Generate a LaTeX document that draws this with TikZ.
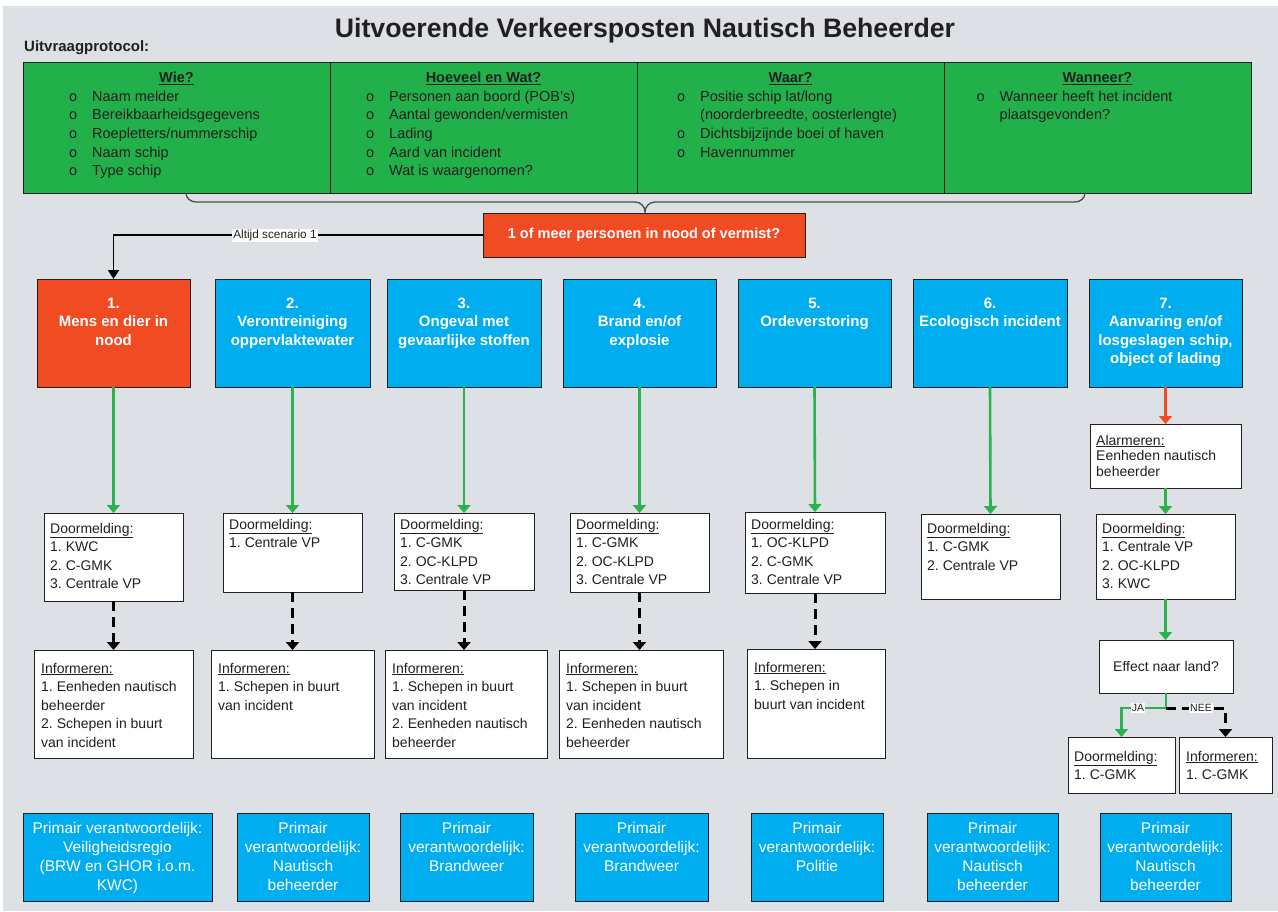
\documentclass[tikz,border=0pt]{standalone}
\usepackage{fontspec}
\setmainfont{Liberation Sans}
\usetikzlibrary{arrows.meta,calc}
\frenchspacing

\definecolor{ink}{HTML}{231F20}
\definecolor{bggrey}{HTML}{DDE1E5}
\definecolor{protgreen}{HTML}{22B04B}
\definecolor{flowgreen}{HTML}{2BB24C}
\definecolor{alertred}{HTML}{F04B23}
\definecolor{catblue}{HTML}{00ADEF}

% box from corner coordinates: name, style, x1, y1, x2, y2
\newcommand\boxnode[6]{%
  \node[#2, minimum width={#5-#3}, minimum height={#6-#4}] (#1)
    at ({(#3+#5)/2},{(#4+#6)/2}) {};}
\newcommand\itm[1]{\makebox[23pt][l]{o}#1}

\begin{document}
\frenchspacing
\begin{tikzpicture}[x=1pt,y=-1pt,
  frame/.style={draw=ink, line width=1pt, inner sep=0pt, outer sep=0pt},
  greencell/.style={frame, fill=protgreen},
  catbox/.style={frame, fill=catblue},
  redbox/.style={frame, fill=alertred},
  whitebox/.style={frame, fill=white},
  hdr/.style={anchor=base, inner sep=0pt, text=ink, font=\fontsize{14.5}{18}\selectfont\bfseries},
  listtxt/.style={anchor=north west, inner sep=0pt, align=left, text=ink, font=\fontsize{14.5}{18.7}\selectfont},
  bodytxt/.style={anchor=north west, inner sep=0pt, align=left, text=ink, font=\fontsize{14}{18.5}\selectfont},
  alarmtxt/.style={anchor=north west, inner sep=0pt, align=left, text=ink, font=\fontsize{14}{15.5}\selectfont},
  cattxt/.style={anchor=north, inner sep=0pt, align=center, text=white, font=\fontsize{15}{18.5}\selectfont\bfseries},
  bottxt/.style={anchor=north, inner sep=0pt, align=center, text=white, font=\fontsize{15.5}{19}\selectfont},
  tag/.style={fill=white, inner sep=1pt, text=ink, font=\fontsize{11.8}{13}\selectfont},
  garrow/.style={draw=flowgreen, line width=2.6pt, -{Triangle[width=13pt,length=8pt]}},
  rarrow/.style={draw=alertred, line width=2.6pt, -{Triangle[width=13pt,length=8pt]}},
  darrow/.style={draw=black, line width=3pt, dash pattern=on 10pt off 6pt, -{Triangle[width=13pt,length=8pt]}},
  karrow/.style={draw=black, line width=1.8pt, -{Triangle[width=11pt,length=9pt]}},
  brace/.style={draw=black!70, line width=1.3pt}
]
\useasboundingbox (0,0) rectangle (1278,911);
\fill[white] (0,0) rectangle (1278,911);
\fill[bggrey] (3,6) rectangle (1278,911);

% title and caption
\node[anchor=base, inner sep=0pt, text=ink, font=\fontsize{26.7}{30}\selectfont\bfseries] (title) at (645,37)
  {Uitvoerende Verkeersposten Nautisch Beheerder};
\node[anchor=base west, inner sep=0pt, text=ink, font=\fontsize{15}{18}\selectfont\bfseries] (protocol) at (24,51)
  {Uitvraagprotocol:};

% question protocol table
\boxnode{wie}{greencell}{23}{62}{330}{193}
\boxnode{wat}{greencell}{330}{62}{637}{193}
\boxnode{waar}{greencell}{637}{62}{944}{193}
\boxnode{wanneer}{greencell}{944}{62}{1251}{193}

\node[hdr] (wieh) at ($(wie.north)+(0,20.5)$) {\underline{Wie?}};
\node[hdr] (wath) at ($(wat.north)+(0,20.5)$) {\underline{Hoeveel en Wat?}};
\node[hdr] (waarh) at ($(waar.north)+(0,20.5)$) {\underline{Waar?}};
\node[hdr] (wanneerh) at ($(wanneer.north)+(0,20.5)$) {\underline{Wanneer?}};

\node[listtxt] (wiel) at ($(wie.north west)+(46,25.9)$)
  {\strut\itm{Naam melder}\\ \itm{Bereikbaarheidsgegevens}\\ \itm{Roepletters/nummerschip}\\ \itm{Naam schip}\\ \itm{Type schip}};
\node[listtxt] (watl) at ($(wat.north west)+(36,25.9)$)
  {\strut\itm{Personen aan boord (POB's)}\\ \itm{Aantal gewonden/vermisten}\\ \itm{Lading}\\ \itm{Aard van incident}\\ \itm{Wat is waargenomen?}};
\node[listtxt] (waarl) at ($(waar.north west)+(40,25.9)$)
  {\strut\itm{Positie schip lat/long}\\ \hspace*{23pt}(noorderbreedte, oosterlengte)\\ \itm{Dichtsbijzijnde boei of haven}\\ \itm{Havennummer}};
\node[listtxt] (wanneerl) at ($(wanneer.north west)+(32.5,25.9)$)
  {\strut\itm{Wanneer heeft het incident}\\ \hspace*{23pt}plaatsgevonden?};

% brace gathering the protocol columns
\draw[brace] (186,193) to[out=-90,in=180] (196,202) -- (635,202)
  to[out=0,in=90] (645,212) to[out=90,in=180] (655,202) -- (1075,202)
  to[out=0,in=-90] (1085,193);

% central question
\boxnode{q}{redbox}{483}{213}{805}{257}
\node[inner sep=0pt, text=white, font=\fontsize{14.5}{18}\selectfont\bfseries] (qt) at (q.center) {1 of meer personen in nood of vermist?};

% incident categories
\boxnode{c1}{redbox}{37}{279}{190}{387}
\boxnode{c2}{catbox}{215}{279}{370}{387}
\boxnode{c3}{catbox}{387}{279}{541}{387}
\boxnode{c4}{catbox}{563}{279}{716}{387}
\boxnode{c5}{catbox}{738}{279}{891}{387}
\boxnode{c6}{catbox}{913}{279}{1067}{387}
\boxnode{c7}{catbox}{1089}{279}{1242}{387}

\node[cattxt] (c1t) at ($(c1.north)+(0,16)$) {\strut 1.\\ Mens en dier in\\ nood};
\node[cattxt] (c2t) at ($(c2.north)+(0,16)$) {\strut 2.\\ Verontreiniging\\ oppervlaktewater};
\node[cattxt] (c3t) at ($(c3.north)+(0,16)$) {\strut 3.\\ Ongeval met\\ gevaarlijke stoffen};
\node[cattxt] (c4t) at ($(c4.north)+(0,16)$) {\strut 4.\\ Brand en/of\\ explosie};
\node[cattxt] (c5t) at ($(c5.north)+(0,16)$) {\strut 5.\\ Ordeverstoring};
\node[cattxt] (c6t) at ($(c6.north)+(0,16)$) {\strut 6.\\ Ecologisch incident};
\node[cattxt] (c7t) at ($(c7.north)+(0,16)$) {\strut 7.\\ Aanvaring en/of\\ losgeslagen schip,\\ object of lading};

% always scenario 1
\draw[karrow] (q.west) -| (c1.north);
\node[tag] (altijd) at (275,235) {Altijd scenario 1};

% forwarding boxes
\boxnode{d1}{whitebox}{44}{513}{183}{601}
\boxnode{d2}{whitebox}{223}{513}{362}{592}
\boxnode{d3}{whitebox}{394}{513}{534}{590}
\boxnode{d4}{whitebox}{570}{513}{709}{592}
\boxnode{d5}{whitebox}{745}{512}{885}{593}
\boxnode{d6}{whitebox}{921}{514}{1060}{599}
\boxnode{d7}{whitebox}{1096}{514}{1235}{599}
\boxnode{a7}{whitebox}{1090}{424}{1241}{488}

\node[bodytxt] (d1t) at ($(d1.north west)+(6,7)$) {\strut\underline{Doormelding:}\\ 1. KWC\\ 2. C-GMK\\ 3. Centrale VP};
\node[bodytxt] (d2t) at ($(d2.north west)+(6,3)$) {\strut\underline{Doormelding:}\\ 1. Centrale VP};
\node[bodytxt] (d3t) at ($(d3.north west)+(6,3)$) {\strut\underline{Doormelding:}\\ 1. C-GMK\\ 2. OC-KLPD\\ 3. Centrale VP};
\node[bodytxt] (d4t) at ($(d4.north west)+(6,3)$) {\strut\underline{Doormelding:}\\ 1. C-GMK\\ 2. OC-KLPD\\ 3. Centrale VP};
\node[bodytxt] (d5t) at ($(d5.north west)+(6,4)$) {\strut\underline{Doormelding:}\\ 1. OC-KLPD\\ 2. C-GMK\\ 3. Centrale VP};
\node[bodytxt] (d6t) at ($(d6.north west)+(6,6)$) {\strut\underline{Doormelding:}\\ 1. C-GMK\\ 2. Centrale VP};
\node[bodytxt] (d7t) at ($(d7.north west)+(6,6)$) {\strut\underline{Doormelding:}\\ 1. Centrale VP\\ 2. OC-KLPD\\ 3. KWC};
\node[alarmtxt] (a7t) at ($(a7.north west)+(6,10)$) {\strut\underline{Alarmeren:}\\ Eenheden nautisch\\ beheerder};

% informing boxes
\boxnode{i1}{whitebox}{34}{650}{193}{758}
\boxnode{i2}{whitebox}{211}{650}{374}{758}
\boxnode{i3}{whitebox}{385}{650}{547}{758}
\boxnode{i4}{whitebox}{559}{650}{723}{758}
\boxnode{i5}{whitebox}{747}{649}{885}{758}

\node[bodytxt] (i1t) at ($(i1.north west)+(7,10)$) {\strut\underline{Informeren:}\\ 1. Eenheden nautisch\\ beheerder\\ 2. Schepen in buurt\\ van incident};
\node[bodytxt] (i2t) at ($(i2.north west)+(7,10)$) {\strut\underline{Informeren:}\\ 1. Schepen in buurt\\ van incident};
\node[bodytxt] (i3t) at ($(i3.north west)+(7,10)$) {\strut\underline{Informeren:}\\ 1. Schepen in buurt\\ van incident\\ 2. Eenheden nautisch\\ beheerder};
\node[bodytxt] (i4t) at ($(i4.north west)+(7,10)$) {\strut\underline{Informeren:}\\ 1. Schepen in buurt\\ van incident\\ 2. Eenheden nautisch\\ beheerder};
\node[bodytxt] (i5t) at ($(i5.north west)+(7,10)$) {\strut\underline{Informeren:}\\ 1. Schepen in\\ buurt van incident};

% scenario 7 decision
\boxnode{e7}{whitebox}{1099}{640}{1233}{693}
\node[inner sep=0pt, text=ink, font=\fontsize{14}{18}\selectfont] (e7t) at (e7.center) {Effect naar land?};
\boxnode{dj}{whitebox}{1068}{737}{1175}{793}
\boxnode{ij}{whitebox}{1179}{737}{1272}{793}
\node[bodytxt] (djt) at ($(dj.north west)+(6,11)$) {\strut\underline{Doormelding:}\\ 1. C-GMK};
\node[bodytxt] (ijt) at ($(ij.north west)+(7,11)$) {\strut\underline{Informeren:}\\ 1. C-GMK};
\coordinate (split) at (1166,708);

% flow connectors
\foreach \k in {1,...,6} {\draw[garrow] (c\k.south) -- (d\k.north);}
\draw[rarrow] (c7.south) -- (a7.north);
\draw[garrow] (a7.south) -- (a7.south |- d7.north);
\draw[garrow] (d7.south) -- (d7.south |- e7.north);
\foreach \k in {1,...,5} {\draw[darrow] (d\k.south) -- (d\k.south |- i\k.north);}
\draw[garrow] (e7.south) -- (split) -| (dj.north);
\draw[darrow] (split) -| (ij.north);
\node[tag, font=\fontsize{10.5}{12}\selectfont] (ja) at (1138,708) {JA};
\node[tag, font=\fontsize{10.5}{12}\selectfont] (nee) at (1201,708) {NEE};

% primary responsibility
\boxnode{b1}{catbox}{23}{813}{212}{901}
\boxnode{b2}{catbox}{237}{813}{369}{901}
\boxnode{b3}{catbox}{400}{813}{533}{901}
\boxnode{b4}{catbox}{575}{813}{708}{901}
\boxnode{b5}{catbox}{751}{813}{883}{901}
\boxnode{b6}{catbox}{927}{813}{1058}{901}
\boxnode{b7}{catbox}{1100}{813}{1231}{901}

\node[bottxt] (b1t) at ($(b1.north)+(0,7)$) {\strut Primair verantwoordelijk:\\ Veiligheidsregio\\ (BRW en GHOR i.o.m.\\ KWC)};
\node[bottxt] (b2t) at ($(b2.north)+(0,7)$) {\strut Primair\\ verantwoordelijk:\\ Nautisch\\ beheerder};
\node[bottxt] (b3t) at ($(b3.north)+(0,7)$) {\strut Primair\\ verantwoordelijk:\\ Brandweer};
\node[bottxt] (b4t) at ($(b4.north)+(0,7)$) {\strut Primair\\ verantwoordelijk:\\ Brandweer};
\node[bottxt] (b5t) at ($(b5.north)+(0,7)$) {\strut Primair\\ verantwoordelijk:\\ Politie};
\node[bottxt] (b6t) at ($(b6.north)+(0,7)$) {\strut Primair\\ verantwoordelijk:\\ Nautisch\\ beheerder};
\node[bottxt] (b7t) at ($(b7.north)+(0,7)$) {\strut Primair\\ verantwoordelijk:\\ Nautisch\\ beheerder};
\end{tikzpicture}
\end{document}
